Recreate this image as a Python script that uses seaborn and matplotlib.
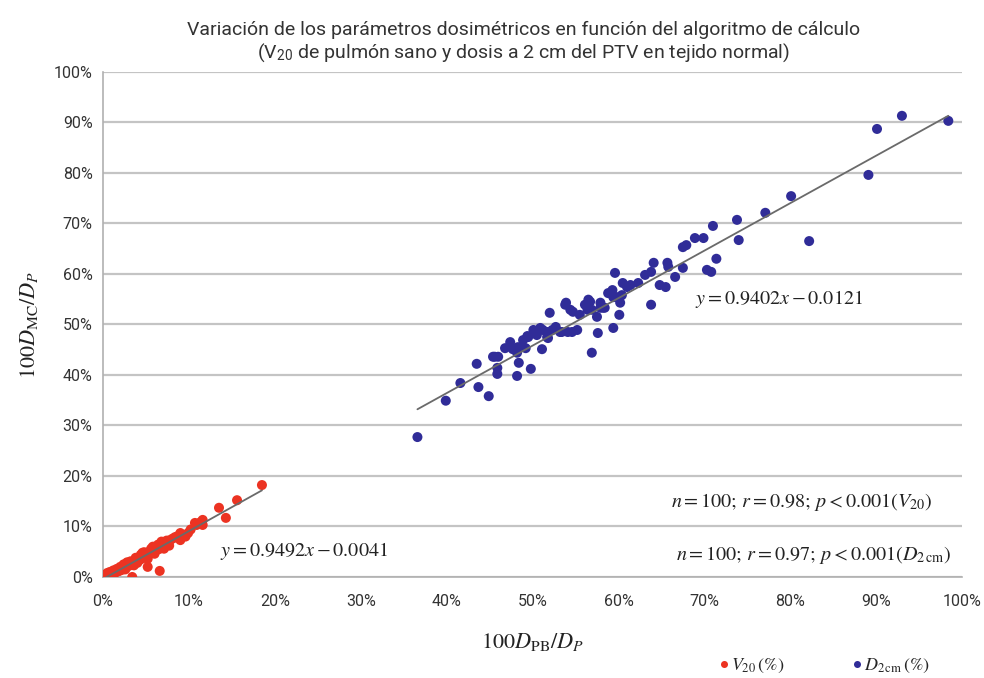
import numpy as np
import pandas as pd
import matplotlib
matplotlib.use("Agg")
import matplotlib.pyplot as plt
import seaborn as sns

# ------------------------------------------------------------
# data (percent values)
# ------------------------------------------------------------
v20_pb = [0.1, 0.3, 0.4, 0.6, 0.7, 0.9, 1.0, 1.1, 1.3, 1.4, 1.5, 1.7, 1.8, 1.9, 2.1, 2.2,
          2.3, 2.5, 2.6, 2.7, 2.9, 3.0, 3.1, 3.3, 3.4, 3.5, 3.7, 3.8, 3.9, 4.1, 4.2, 4.3,
          4.5, 4.6, 4.7, 4.9, 5.0, 5.1, 5.3, 5.4, 5.5, 5.7, 5.8, 5.9, 6.1, 6.2, 6.3, 6.5,
          6.6, 6.7, 6.9, 7.0, 7.2, 7.3, 7.5, 7.6, 7.8, 2.0, 3.2, 4.4, 5.6, 6.4, 1.2, 0.5,
          2.8, 4.8, 5.2, 6.0, 3.6, 7.1, 8.4, 9.0, 9.3, 9.9, 9.0, 8.7, 10.7, 10.9, 11.3, 11.4,
          11.6, 11.6, 13.5, 14.3, 15.6, 18.5, 5.2, 6.6, 3.4, 1.6, 2.4, 3.8, 4.0, 4.6, 5.8, 6.8,
          7.4, 0.8, 2.6, 7.7, 8.1, 10.2, 9.6]
v20_mc = [0.3, 0.2, 0.5, 0.3, 0.7, 0.5, 0.9, 0.6, 1.0, 0.8, 1.3, 1.1, 1.5, 1.2, 1.7, 1.4,
          1.9, 1.8, 2.2, 1.9, 2.5, 2.2, 2.7, 2.4, 3.0, 2.7, 3.3, 2.9, 3.5, 3.2, 3.8, 3.4,
          4.1, 3.7, 4.3, 4.0, 4.6, 4.2, 4.9, 4.5, 5.1, 4.8, 5.4, 5.0, 5.7, 5.3, 5.9, 5.5,
          6.2, 5.8, 6.5, 6.1, 6.8, 6.4, 7.0, 6.7, 7.3, 2.0, 3.1, 4.4, 5.6, 6.4, 1.3, 0.8,
          2.9, 4.9, 3.6, 4.6, 2.3, 5.6, 7.9, 8.7, 8.3, 8.7, 7.3, 8.1, 10.7, 10.3, 10.7, 10.9,
          11.3, 10.3, 13.7, 11.7, 15.2, 18.2, 2.0, 1.2, 0.0, 1.6, 2.5, 3.8, 2.8, 4.8, 6.0, 7.0,
          7.2, 1.0, 1.5, 6.2, 7.6, 9.4, 8.0]

d2_pb = [36.6, 39.9, 41.6, 43.5, 43.7, 44.9, 45.4, 46.0, 45.9, 45.9, 47.4, 47.7, 48.2, 48.4,
         48.2, 49.2, 49.8, 49.4, 50.1, 50.5, 51.1, 51.2, 51.7, 52.0, 52.3, 53.2, 53.8, 54.4,
         54.6, 55.2, 56.9, 56.7, 56.9, 57.5, 57.6, 57.9, 58.4, 58.8, 59.4, 59.6, 59.8, 60.1,
         60.2, 60.5, 61.0, 62.3, 63.8, 63.8, 64.1, 64.8, 65.5, 65.7, 65.8, 66.6, 67.5, 67.5,
         67.9, 68.9, 69.9, 70.3, 70.8, 71.0, 71.4, 73.8, 74.0, 77.1, 80.1, 82.2, 89.1, 90.1,
         93.0, 98.4, 56.4, 58.2, 53.9, 54.1, 53.4, 51.7, 50.5, 49.5, 51.8, 48.3, 45.6, 50.9,
         52.7, 48.9, 46.8, 59.3, 61.4, 63.1, 60.4, 55.5, 56.1, 54.7, 56.5, 57.9, 59.4]
d2_mc = [27.7, 34.9, 38.4, 42.2, 37.6, 35.8, 43.6, 43.6, 41.4, 40.2, 46.5, 45.1, 44.4, 42.4,
         39.8, 45.3, 41.2, 47.7, 48.9, 47.9, 45.1, 48.9, 47.5, 52.3, 48.9, 48.5, 53.9, 52.9,
         48.5, 48.9, 44.4, 54.5, 52.9, 51.5, 48.3, 54.3, 53.3, 56.2, 49.3, 60.2, 55.4, 51.9,
         54.3, 58.2, 57.4, 58.2, 60.4, 53.9, 62.2, 57.8, 57.4, 62.2, 61.4, 59.4, 61.2, 65.3,
         65.7, 67.1, 67.1, 60.8, 60.4, 69.5, 63.0, 70.7, 66.7, 72.1, 75.4, 66.5, 79.6, 88.7,
         91.3, 90.3, 52.9, 53.3, 54.3, 48.5, 48.5, 48.5, 48.5, 47.5, 47.3, 45.5, 43.6, 49.3,
         49.5, 46.9, 45.3, 56.8, 57.8, 59.8, 55.8, 51.9, 53.9, 52.5, 54.9, 53.3, 55.4]

fit_v20 = (0.9492, -0.41)   # slope, intercept in percent
fit_d2 = (0.9402, -1.21)

series_labels = [r"$V_{20}\,(\%)$", r"$D_{2\,\mathrm{cm}}\,(\%)$"]
tick_vals = list(range(0, 101, 10))
tick_labels = [f"{v}%" for v in tick_vals]

df = pd.DataFrame({
    "pb": v20_pb + d2_pb,
    "mc": v20_mc + d2_mc,
    "serie": [series_labels[0]] * len(v20_pb) + [series_labels[1]] * len(d2_pb),
})

# ------------------------------------------------------------
# plot
# ------------------------------------------------------------
sns.set_style("white")
plt.rcParams["font.family"] = ["Roboto", "DejaVu Sans"]
plt.rcParams["mathtext.fontset"] = "stix"

fig = plt.figure(figsize=(9.84, 6.78), dpi=100)
ax = fig.add_axes([0.1047, 0.149, 0.873, 0.745])

palette = {series_labels[0]: "#ec3322", series_labels[1]: "#302c98"}
sns.scatterplot(data=df, x="pb", y="mc", hue="serie", palette=palette, s=52,
                linewidth=0, ax=ax, zorder=3)

for xs, (m, b) in [(v20_pb, fit_v20), (d2_pb, fit_d2)]:
    xr = np.array([min(xs), max(xs)])
    ax.plot(xr, m * xr + b, color="#6a6a6a", lw=1.3, zorder=4)

ax.set_xlim(0, 100)
ax.set_ylim(0, 100)
ax.set_xticks(tick_vals)
ax.set_xticklabels(tick_labels)
ax.set_yticks(tick_vals)
ax.set_yticklabels(tick_labels)
ax.tick_params(axis="both", direction="out", length=4, width=1, color="#a8a8a8",
               labelsize=11.5, labelcolor="#333333")
ax.tick_params(axis="x", pad=8)
ax.yaxis.grid(True, color="#c4c4c4", lw=1.6)
ax.xaxis.grid(False)
for side in ["top", "right"]:
    ax.spines[side].set_visible(False)
for side in ["left", "bottom"]:
    ax.spines[side].set_color("#b0b0b0")
    ax.spines[side].set_linewidth(1.2)
ax.set_axisbelow(True)

ax.set_xlabel(r"$100D_{\mathrm{PB}}/D_P$", fontsize=16, labelpad=16, color="#222222")
ax.set_ylabel(r"$100D_{\mathrm{MC}}/D_P$", fontsize=16, labelpad=10, color="#222222")
ax.set_title("Variación de los parámetros dosimétricos en función del algoritmo de cálculo\n"
             r"(V$_{\mathregular{20}}$ de pulmón sano y dosis a 2 cm del PTV en tejido normal)",
             fontsize=14, color="#333333", pad=10, x=0.49, linespacing=1.15)

txt_kw = dict(fontsize=14.5, color="#222222", va="center")
ax.text(68.9, 55.0, r"$y = 0.9402x - 0.0121$", ha="left", **txt_kw)
ax.text(13.6, 5.1, r"$y = 0.9492x - 0.0041$", ha="left", **txt_kw)
ax.text(96.5, 14.8, r"$n = 100;\, r = 0.98;\, p < 0.001(V_{20})$", ha="right", **txt_kw)
ax.text(98.7, 4.3, r"$n = 100;\, r = 0.97;\, p < 0.001(D_{2\,\mathrm{cm}})$", ha="right", **txt_kw)

sns.move_legend(ax, "center", bbox_to_anchor=(0.832, -0.175), ncol=2, frameon=False,
                title=None, fontsize=13, handletextpad=-0.6, columnspacing=3.0,
                markerscale=0.7)

fig.savefig("out.png", dpi=100)
